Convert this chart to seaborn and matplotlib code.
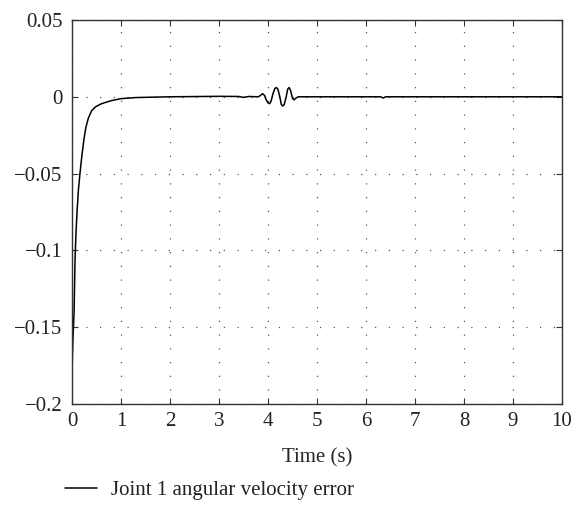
import numpy as np
import pandas as pd
import matplotlib
matplotlib.use("Agg")
import matplotlib.pyplot as plt
import seaborn as sns

sns.set_style("ticks")
plt.rcParams["font.family"] = ["Liberation Serif", "DejaVu Serif"]

# ------------------------------------------------------------
# data
# ------------------------------------------------------------
time_s = [0.0, 0.01, 0.02, 0.04, 0.06, 0.08, 0.10, 0.13, 0.16, 0.20, 0.24,
          0.28, 0.33, 0.40, 0.48, 0.60, 0.80, 1.00, 1.30, 1.70, 2.00, 3.00,
          3.40, 3.50, 3.60, 3.80, 3.84, 3.89, 3.93, 3.96, 4.00, 4.03, 4.06,
          4.10, 4.14, 4.17, 4.20, 4.24, 4.27, 4.30, 4.33, 4.37, 4.40, 4.43,
          4.46, 4.50, 4.53, 4.57, 4.62, 5.00, 6.30, 6.35, 6.40, 8.00, 10.0]
vel_error = [-0.176, -0.165, -0.155, -0.14, -0.105, -0.088, -0.075, -0.06,
             -0.05, -0.038, -0.028, -0.02, -0.014, -0.009, -0.0065, -0.0045,
             -0.0025, -0.0012, -0.0005, -0.0002, 0.0, 0.0003, 0.0002, -0.0004,
             0.0002, 0.0, 0.0008, 0.002, 0.0008, -0.002, -0.004, -0.0045,
             -0.003, 0.002, 0.0055, 0.006, 0.005, 0.0, -0.005, -0.006, -0.005,
             0.0, 0.005, 0.006, 0.004, -0.001, -0.002, -0.0008, 0.0, 0.0,
             0.0, -0.0008, 0.0, 0.0, 0.0]

df = pd.DataFrame({"Time (s)": time_s, "err": vel_error})

fig = plt.figure(figsize=(5.77, 5.15), dpi=100)
ax = fig.add_axes([0.125, 0.2155, 0.849, 0.7457])

sns.lineplot(data=df, x="Time (s)", y="err", ax=ax, color="black", lw=1.1,
             label="Joint 1 angular velocity error", legend=False)

ax.set_xlim(0, 10)
ax.set_ylim(-0.2, 0.05)
ax.set_xticks(range(0, 11))
ax.set_yticks([-0.2, -0.15, -0.1, -0.05, 0, 0.05])
ax.set_yticklabels(["\u22120.2", "\u22120.15", "\u22120.1", "\u22120.05", "0", "0.05"])
ax.set_xlabel("Time (s)", fontsize=15, labelpad=12)
ax.set_ylabel("")
ax.tick_params(direction="in", top=True, right=True, labelsize=15, length=4,
               color="#333333", labelcolor="#222222")
ax.tick_params(axis="x", pad=6)
ax.tick_params(axis="y", pad=7)
ax.grid(True, linestyle=(0, (1, 10)), color="#555555", lw=0.9)
for sp in ax.spines.values():
    sp.set_color("#333333")
    sp.set_linewidth(1.0)

handles, labels = ax.get_legend_handles_labels()
fig.legend(handles, labels, loc="center left", bbox_to_anchor=(0.113, 0.0485),
           frameon=False, fontsize=15, handlelength=1.55, handletextpad=0.63,
           borderpad=0, borderaxespad=0, labelcolor="#222222")

fig.savefig("out.png", dpi=100)
